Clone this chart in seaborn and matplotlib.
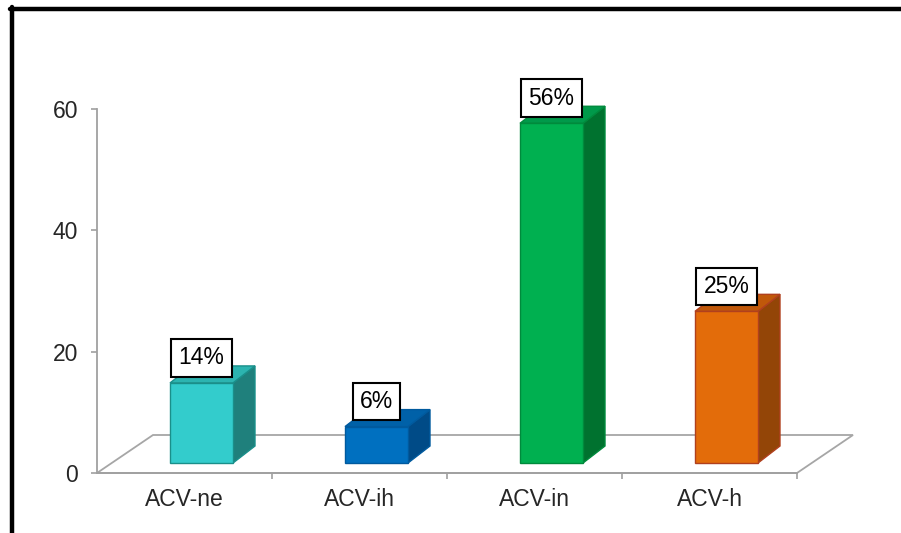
import matplotlib
matplotlib.use("Agg")
import matplotlib.pyplot as plt
from matplotlib.patches import Polygon
from matplotlib.lines import Line2D
import seaborn as sns

sns.set_style("white")
plt.rcParams['font.family'] = ['Liberation Sans', 'DejaVu Sans']

# datos
categories = ['ACV-ne', 'ACV-ih', 'ACV-in', 'ACV-h']
heights = [13.2, 6, 56, 25]
labels = ['14%', '6%', '56%', '25%']
y_ticks = [0, 20, 40, 60]

# colores: frente, lateral, tapa, borde
front_colors = ['#33CCCC', '#0070C0', '#00B050', '#E36C0A']
side_colors = ['#1F807C', '#004B87', '#00722F', '#934507']
top_colors = ['#2CB4B0', '#0061A8', '#00994A', '#C0580A']
edge_colors = ['#1A8F8A', '#005A9E', '#008A3C', '#B0401E']

W, H = 901, 533
FS = 16.5
fig = plt.figure(figsize=(W / 100, H / 100), dpi=100)
px_unit = (473 - 109) / 60.0
ax = fig.add_axes([97 / W, (H - 473) / H, 700 / W, (473 - 60) / H])
ax.set_ylim(0, (473 - 60) / px_unit)
ax.set_xlim(-0.5, 3.5)

# profundidad 3D
dx = 22 / 175.0
dy = 17 / px_unit
base = 10 / px_unit
shift = 17 / 175.0
floor_dx = 56 / 175.0
floor_dy = 38 / px_unit

# piso
floor = Polygon([(-0.5, 0), (-0.5 + floor_dx, floor_dy), (3.5 + floor_dx, floor_dy), (3.5, 0)],
                closed=True, facecolor='white', edgecolor='#A6A6A6', lw=1.3, zorder=1, clip_on=False)
ax.add_patch(floor)

sns.barplot(x=categories, y=heights, hue=categories, palette=front_colors, legend=False,
            width=0.36, saturation=1, ax=ax, zorder=3)

bars = [p for p in ax.patches if p is not floor]
for i, p in enumerate(bars):
    p.set_x(p.get_x() + shift)
    p.set_y(base)
    p.set_edgecolor(edge_colors[i])
    p.set_linewidth(1.0)
    p.set_clip_on(False)
    x0, w, h = p.get_x(), p.get_width(), p.get_height()
    y1 = base + h
    side = Polygon([(x0 + w, base), (x0 + w + dx, base + dy), (x0 + w + dx, y1 + dy), (x0 + w, y1)],
                   closed=True, facecolor=side_colors[i], edgecolor=edge_colors[i], lw=1.0,
                   zorder=2.9, clip_on=False)
    top = Polygon([(x0, y1), (x0 + dx, y1 + dy), (x0 + w + dx, y1 + dy), (x0 + w, y1)],
                  closed=True, facecolor=top_colors[i], edgecolor=edge_colors[i], lw=1.0,
                  zorder=2.9, clip_on=False)
    ax.add_patch(side)
    ax.add_patch(top)
    ax.annotate(labels[i], xy=(x0 + w / 2, y1), xytext=(0, 18), textcoords='offset points',
                ha='center', va='center', fontsize=FS, color='black', zorder=5,
                annotation_clip=False,
                bbox=dict(boxstyle='square,pad=0.32', facecolor='white', edgecolor='black', lw=1.5))

# ejes
for s in ['top', 'right']:
    ax.spines[s].set_visible(False)
for s in ['left', 'bottom']:
    ax.spines[s].set_color('#A0A0A0')
    ax.spines[s].set_linewidth(1.3)
ax.spines['left'].set_bounds(0, 60)
ax.set_yticks(y_ticks)
ax.set_yticklabels([str(t) for t in y_ticks])
ax.tick_params(axis='y', length=4.5, width=1.2, color='#A0A0A0', pad=9, labelsize=FS, left=True)
ax.set_xticks(range(len(categories)))
ax.set_xticklabels(categories)
ax.set_xticks([0.5, 1.5, 2.5, 3.5], minor=True)
ax.tick_params(axis='x', which='major', length=0, pad=11, labelsize=FS)
ax.tick_params(axis='x', which='minor', length=4, width=1.2, color='#A0A0A0', bottom=True)
ax.set_xlabel('')
ax.set_ylabel('')
ax.patch.set_alpha(0)

# marco negro
fig.add_artist(Line2D([10 / W, 1], [(H - 9) / H, (H - 9) / H], color='black', lw=3.2, transform=fig.transFigure))
fig.add_artist(Line2D([12 / W, 12 / W], [0, (H - 7) / H], color='black', lw=3.2, transform=fig.transFigure))

fig.savefig('out.png', dpi=100)
